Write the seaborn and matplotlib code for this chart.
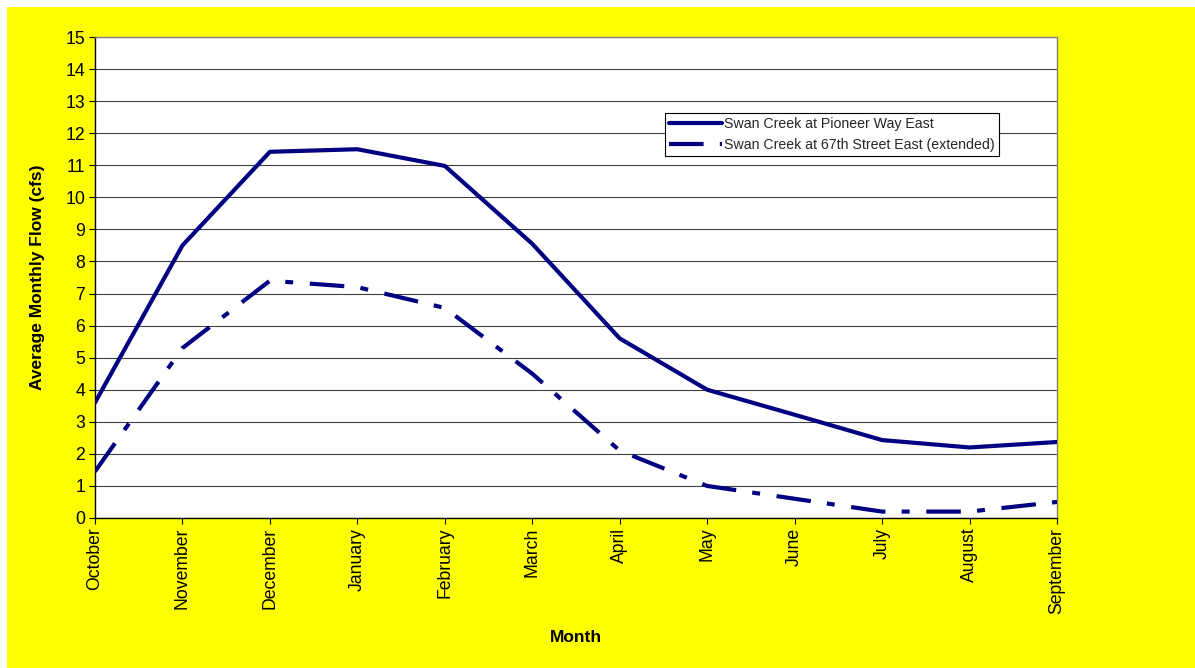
import numpy as np
import pandas as pd
import seaborn as sns
import matplotlib.pyplot as plt
from matplotlib.patches import Rectangle
from matplotlib.lines import Line2D

# Water-year months, October through September
months = ["October", "November", "December", "January", "February", "March",
          "April", "May", "June", "July", "August", "September"]

# Average monthly flow (cfs)
pioneer_way_east = [3.6, 8.5, 11.42, 11.5, 10.98, 8.55, 5.6, 4.0, 3.22, 2.43, 2.2, 2.37]
street_67th_east = [1.45, 5.3, 7.4, 7.2, 6.55, 4.5, 2.1, 1.0, 0.6, 0.2, 0.2, 0.5]

series_names = ["Swan Creek at Pioneer Way East",
                "Swan Creek at 67th Street East (extended)"]

y_ticks = list(range(0, 16))

NAVY = "#000080"
DASH_DOT = (8.3, 3.9, 1.9, 4.0)
LW = 3.0

sns.set_theme(style="white")
plt.rcParams["font.family"] = ["Liberation Sans", "DejaVu Sans"]

W, H = 1195, 668
fig = plt.figure(figsize=(W / 100, H / 100), dpi=100)
fig.patch.set_facecolor("white")
fig.add_artist(Rectangle((7 / W, 0), 1 - 7 / W, 1 - 7 / H, transform=fig.transFigure,
                         facecolor="#FFFF00", edgecolor="none", zorder=-10))

ax = fig.add_axes([95 / W, 1 - 518 / H, (1057 - 95) / W, (518 - 37) / H])
ax.set_facecolor("white")

df = pd.DataFrame({
    "month_idx": np.tile(np.arange(len(months)), 2),
    "flow": pioneer_way_east + street_67th_east,
    "station": np.repeat(series_names, len(months)),
})

sns.lineplot(data=df, x="month_idx", y="flow", hue="station", style="station",
             palette=[NAVY, NAVY], dashes={series_names[0]: "", series_names[1]: DASH_DOT},
             linewidth=LW, ax=ax, legend=False, zorder=3)

ax.set_xlim(0, len(months) - 1)
ax.set_ylim(0, 15)
ax.set_yticks(y_ticks)
ax.set_yticklabels([str(v) for v in y_ticks], fontsize=12.7, color="black")
ax.set_xticks(range(len(months)))
ax.set_xticklabels(months, rotation=90, fontsize=12.7, color="black")

ax.yaxis.grid(True, color="#404040", linewidth=0.8)
ax.xaxis.grid(False)
ax.set_axisbelow(True)

for side in ("left", "bottom"):
    ax.spines[side].set_color("black")
    ax.spines[side].set_linewidth(1.0)
for side in ("top", "right"):
    ax.spines[side].set_color("#808080")
    ax.spines[side].set_linewidth(1.0)

ax.tick_params(axis="both", which="major", direction="out", length=4, width=0.8,
               color="black", pad=3, bottom=True, left=True)

ax.set_ylabel("Average Monthly Flow (cfs)", fontsize=12.5, fontweight="bold", color="black")
ax.yaxis.set_label_coords(-0.052, 0.5)
ax.set_xlabel("Month", fontsize=12.5, fontweight="bold", color="black")
ax.xaxis.set_label_coords(0.5, -0.232)

handles = [Line2D([], [], color=NAVY, linewidth=LW),
           Line2D([], [], color=NAVY, linewidth=LW, dashes=DASH_DOT)]
leg = ax.legend(handles, series_names, loc="upper left",
                bbox_to_anchor=(665 / W, 1 - 113 / H), bbox_transform=fig.transFigure,
                borderaxespad=0, fontsize=10.2, frameon=True, fancybox=False,
                framealpha=1, edgecolor="black", handlelength=3.7, handletextpad=0.15,
                borderpad=0.3, labelspacing=0.45)
leg.get_frame().set_linewidth(0.8)

fig.savefig("out.png", dpi=100, facecolor=fig.get_facecolor())
